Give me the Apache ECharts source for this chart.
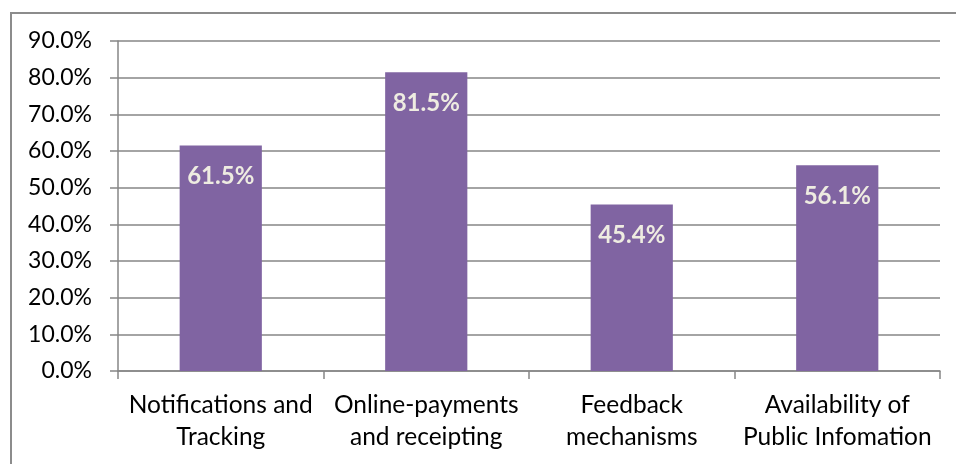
<!DOCTYPE html>
<html>
<head>
<meta charset="utf-8">
<script src="https://cdn.jsdelivr.net/npm/echarts@6/dist/echarts.min.js"></script>
<style>
  html, body { margin: 0; padding: 0; background: #fff; }
  #frame { position: absolute; left: 10px; top: 12px; width: 960px; height: 470px; border: 2px solid #8c8c8c; box-sizing: border-box; }
  #chart { position: absolute; left: 0; top: 0; width: 956px; height: 464px; }
</style>
</head>
<body>
<div id="frame"></div>
<div id="chart"></div>
<script>
// Share of respondents per e-service feature
const categories = ['Notifications and\nTracking', 'Online-payments\nand receipting', 'Feedback\nmechanisms', 'Availability of\nPublic Infomation'];
const values = [61.5, 81.5, 45.4, 56.1];
const yTicks = { min: 0, max: 90, interval: 10 };

const FONT = 'Lato, "Open Sans", sans-serif';
const chart = echarts.init(document.getElementById('chart'));
chart.setOption({
  animation: false,
  grid: { left: 118, right: 16, top: 41, bottom: 93, containLabel: false },
  xAxis: {
    type: 'category',
    data: categories,
    axisLine: { lineStyle: { color: '#868686', width: 1.5 } },
    axisTick: { show: true, length: 8, lineStyle: { color: '#868686', width: 1.5 } },
    axisLabel: { interval: 0, hideOverlap: false, color: '#000', fontFamily: FONT, fontSize: 24.5, lineHeight: 32, margin: 18 }
  },
  yAxis: {
    type: 'value',
    min: yTicks.min, max: yTicks.max, interval: yTicks.interval,
    axisLine: { show: true, lineStyle: { color: '#868686', width: 1.5 } },
    axisTick: { show: true, length: 8, lineStyle: { color: '#868686', width: 1.5 } },
    splitLine: { lineStyle: { color: '#868686', width: 1.5 } },
    axisLabel: { color: '#000', fontFamily: FONT, fontSize: 23, margin: 26, formatter: v => v.toFixed(1) + '%' }
  },
  series: [{
    type: 'bar',
    data: values,
    barWidth: '40%',
    itemStyle: { color: '#8064A2' },
    label: {
      show: true,
      position: 'insideTop',
      distance: 19,
      color: '#EEECE1',
      fontFamily: FONT,
      fontWeight: 'bold',
      fontSize: 24,
      formatter: p => p.value.toFixed(1) + '%'
    }
  }]
});
</script>
</body>
</html>
